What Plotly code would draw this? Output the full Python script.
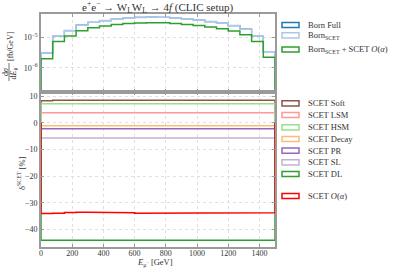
import plotly.graph_objects as go

# ---------------- data ----------------
bin_edges = list(range(0, 1501, 75))  # E_mu [GeV]

born_full = [3.05e-6, 1.10e-5, 1.63e-5, 2.44e-5, 3.05e-5, 3.43e-5, 3.85e-5, 4.15e-5, 4.38e-5, 4.48e-5,
             4.42e-5, 4.18e-5, 3.88e-5, 3.60e-5, 3.20e-5, 2.85e-5, 2.37e-5, 1.81e-5, 1.10e-5, 3.36e-6]
born_scet = [3.05e-6, 1.10e-5, 1.63e-5, 2.44e-5, 3.05e-5, 3.43e-5, 3.85e-5, 4.15e-5, 4.38e-5, 4.48e-5,
             4.42e-5, 4.18e-5, 3.88e-5, 3.60e-5, 3.20e-5, 2.85e-5, 2.37e-5, 1.81e-5, 1.10e-5, 3.36e-6]
born_scet_nlo = [2.0e-6, 7.2e-6, 1.08e-5, 1.62e-5, 2.02e-5, 2.28e-5, 2.56e-5, 2.75e-5, 2.90e-5, 2.96e-5,
                 2.92e-5, 2.76e-5, 2.56e-5, 2.38e-5, 2.12e-5, 1.88e-5, 1.57e-5, 1.20e-5, 7.2e-6, 2.2e-6]

delta_soft = [8.2, 8.4, 8.4, 8.5, 8.6, 8.6, 8.5, 8.4, 8.4, 8.4, 8.4, 8.4, 8.4, 8.4, 8.5, 8.5, 8.4, 8.4, 8.4, 8.4]
delta_lsm = [3.75] * 20
delta_hsm = [7.1, 7.1, 7.1, 7.1, 7.1, 7.1, 7.1, 7.1, 7.1, 7.1, 7.1, 7.1, 7.1, 7.1, 7.1, 7.1, 7.1, 7.1, 7.1, 7.1]
delta_decay = [-1.1] * 20
delta_pr = [-2.25] * 20
delta_sl = [-5.75] * 20
delta_dl = [-44.05] * 20
delta_nlo = [-34.0, -33.9, -33.7, -33.6, -33.6, -33.7, -33.8, -33.8, -33.9, -33.8,
             -33.8, -33.9, -33.8, -33.8, -33.8, -33.8, -33.7, -33.8, -33.8, -33.8]

top_labels = ["Born Full", "Born<sub>SCET</sub>", "Born<sub>SCET</sub> + SCET <i>O</i>(<i>α</i>)"]
bot_labels = ["SCET Soft", "SCET LSM", "SCET HSM", "SCET Decay", "SCET PR", "SCET SL", "SCET DL",
              "SCET <i>O</i>(<i>α</i>)"]
x_ticks = [0, 200, 400, 600, 800, 1000, 1200, 1400]

top_colors = ["#1f77b4", "#aec7e8", "#2ca02c"]
bot_colors = ["#8c564b", "#ff9896", "#98df8a", "#ffbb78", "#9467bd", "#c5b0d5", "#2ca02c", "#ff0000"]

# ---------------- helpers ----------------
W, H = 395, 270
L, T, PW, PH = 41, 14, 234, 233


def px(x):
    return (x - L) / PW


def py(y):
    return 1 - (y - T) / PH


def step(edges, vals, base):
    xs, ys = [edges[0]], [base]
    for i, v in enumerate(vals):
        xs += [edges[i], edges[i + 1]]
        ys += [v, v]
    xs.append(edges[-1])
    ys.append(base)
    return xs, ys


FONT = "Liberation Serif"
SPINE = "#9a9a9a"
TXT = "#333333"

fig = go.Figure()

for vals, col, w in zip([born_full, born_scet, born_scet_nlo], top_colors, [1.2, 1.6, 1.5]):
    xs, ys = step(bin_edges, vals, 1e-9)
    fig.add_trace(go.Scatter(x=xs, y=ys, mode="lines", line=dict(color=col, width=w),
                             xaxis="x", yaxis="y", showlegend=False, hoverinfo="skip"))

for vals, col in zip([delta_soft, delta_lsm, delta_hsm, delta_decay, delta_pr, delta_sl, delta_dl, delta_nlo],
                     bot_colors):
    xs, ys = step(bin_edges, vals, 0)
    fig.add_trace(go.Scatter(x=xs, y=ys, mode="lines", line=dict(color=col, width=1.5),
                             xaxis="x2", yaxis="y2", showlegend=False, hoverinfo="skip"))

axis_common = dict(showline=True, linecolor=SPINE, linewidth=1.6, mirror="allticks",
                   ticks="inside", ticklen=3, tickwidth=1, tickcolor=SPINE,
                   showgrid=True, gridcolor="#e0e0e0", gridwidth=0.8, griddash="dot",
                   zeroline=False, tickfont=dict(family=FONT, size=8, color=TXT))

fig.update_layout(
    width=W, height=H,
    margin=dict(l=L, r=W - L - PW, t=T, b=H - T - PH),
    paper_bgcolor="white", plot_bgcolor="white",
    xaxis=dict(axis_common, domain=[0, 1], range=[0, 1500], tickvals=x_ticks,
               showticklabels=False, anchor="y"),
    yaxis=dict(axis_common, domain=[0.667, 1], type="log", range=[-6.77, -4.248],
               tickvals=[1e-6, 1e-5], ticktext=["10<sup>−6</sup>", "10<sup>−5</sup>"], anchor="x"),
    xaxis2=dict(axis_common, domain=[0, 1], range=[0, 1500], tickvals=x_ticks, anchor="y2",
                ticklabelstandoff=-2),
    yaxis2=dict(axis_common, domain=[0, 0.664], range=[-46.6, 11.4],
                tickvals=[-40, -30, -20, -10, 0, 10], anchor="x2"),
    showlegend=False,
)

ann = []
shapes = []
# title
ann.append(dict(text="e<sup>+</sup>e<sup>−</sup> → W<sub>L</sub>W<sub>L</sub> → 4<i>f</i> (CLIC setup)",
                x=px(157), y=py(7), xref="paper", yref="paper", showarrow=False,
                font=dict(family=FONT, size=11, color=TXT), xanchor="center", yanchor="middle"))
# x label
ann.append(dict(text="<i>E</i><sub>μ<sup>−</sup></sub> [GeV]", x=px(155), y=py(262), xref="paper", yref="paper",
                showarrow=False, font=dict(family=FONT, size=8.5, color=TXT), xanchor="center", yanchor="middle"))
# bottom y label
ann.append(dict(text="δ<sup>SCET</sup> [%]", x=px(21), y=py(173), xref="paper", yref="paper",
                showarrow=False, textangle=-90, font=dict(family=FONT, size=8.5, color=TXT),
                xanchor="center", yanchor="middle"))
# top y label (fraction)
ann.append(dict(text="d<i>σ</i>", x=px(5), y=py(72), xref="paper", yref="paper", showarrow=False,
                textangle=-90, font=dict(family=FONT, size=8, color=TXT), xanchor="center", yanchor="middle"))
ann.append(dict(text="d<i>E</i><sub>μ<sup>−</sup></sub>", x=px(13.5), y=py(72), xref="paper", yref="paper",
                showarrow=False, textangle=-90, font=dict(family=FONT, size=8, color=TXT),
                xanchor="center", yanchor="middle"))
shapes.append(dict(type="line", xref="paper", yref="paper", x0=px(9), x1=px(9), y0=py(63), y1=py(81),
                   line=dict(color=TXT, width=0.7)))
ann.append(dict(text="[fb/GeV]", x=px(10), y=py(46), xref="paper", yref="paper", showarrow=False,
                textangle=-90, font=dict(family=FONT, size=8, color=TXT), xanchor="center", yanchor="middle"))

# legends
def legend_item(yc, col, label):
    shapes.append(dict(type="rect", xref="paper", yref="paper", x0=px(282), x1=px(299),
                       y0=py(yc + 2.6), y1=py(yc - 2.6), line=dict(color=col, width=1.5),
                       fillcolor="white", layer="above"))
    ann.append(dict(text=label, x=px(306), y=py(yc), xref="paper", yref="paper", showarrow=False,
                    font=dict(family=FONT, size=8.5, color=TXT), xanchor="left", yanchor="middle"))


for yc, col, lab in zip([25, 35.3, 49.5], top_colors, top_labels):
    legend_item(yc, col, lab)
for yc, col, lab in zip([103.3, 115, 127.3, 139, 150.7, 162.3, 174, 196], bot_colors, bot_labels):
    legend_item(yc, col, lab)

fig.update_layout(annotations=ann, shapes=shapes)
fig.write_html("out.html", config={"displayModeBar": False},
               post_script="document.body.style.margin='0px';document.body.style.padding='0px';")
